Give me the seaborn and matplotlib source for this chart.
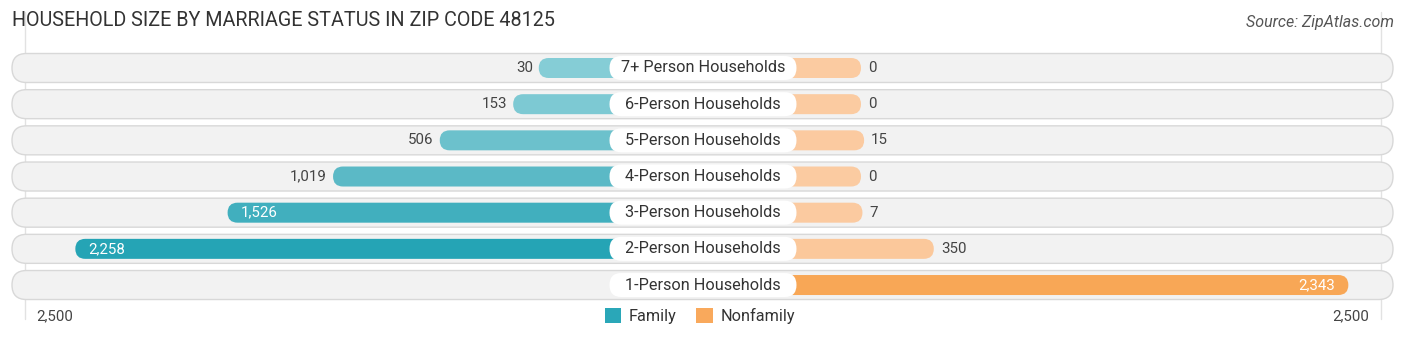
import matplotlib
matplotlib.use("Agg")
import matplotlib.pyplot as plt
import seaborn as sns
import pandas as pd
import numpy as np
from matplotlib.patches import FancyBboxPatch, Patch

# ---------------- data ----------------
categories = ["7+ Person Households", "6-Person Households", "5-Person Households",
              "4-Person Households", "3-Person Households", "2-Person Households",
              "1-Person Households"]
family = [30, 153, 506, 1019, 1526, 2258, None]
nonfamily = [0, 0, 15, 0, 7, 350, 2343]
family_colors = ["#85cdd6", "#7dc9d3", "#6cc1cc", "#5bb9c6", "#41afbe", "#25a4b5", "#25a4b5"]
nonfamily_colors = ["#fbcba1", "#fbcba1", "#fbcaa0", "#fbcba1", "#fbcaa0", "#fbc89b", "#f8a756"]
legend_labels = ["Family", "Nonfamily"]
legend_colors = ["#2aa7b8", "#f9a95c"]
tick_label = "2,500"
title = "HOUSEHOLD SIZE BY MARRIAGE STATUS IN ZIP CODE 48125"
source = "Source: ZipAtlas.com"

# ---------------- layout constants ----------------
W, H = 1406, 340
PXX = 0.208            # px per household
BASE = 158 / PXX       # minimum bar length (units) hidden under the label
XL = (W / 2) / PXX
ROW_PX = 36.17
Y0_PX = 68
ylim_top = -Y0_PX / ROW_PX
ylim_bot = (H - Y0_PX) / ROW_PX
PXY = ROW_PX

sns.set_theme(style="white")
plt.rcParams["font.family"] = ["Roboto", "DejaVu Sans"]

fig = plt.figure(figsize=(W / 100, H / 100), dpi=100)
ax = fig.add_axes([0, 0, 1, 1])

fam_df = pd.DataFrame({"cat": categories, "val": family})
fam_df = fam_df.dropna()
fam_df["len"] = -(BASE + fam_df["val"].astype(float))
non_df = pd.DataFrame({"cat": categories, "val": nonfamily})
non_df["len"] = BASE + non_df["val"].astype(float)

bar_h_px = 20
bar_h = bar_h_px / PXY
sns.barplot(data=fam_df, x="len", y="cat", hue="cat", order=categories,
            hue_order=categories, palette=dict(zip(categories, family_colors)),
            legend=False, width=bar_h, orient="h", saturation=1, ax=ax)
sns.barplot(data=non_df, x="len", y="cat", hue="cat", order=categories,
            hue_order=categories, palette=dict(zip(categories, nonfamily_colors)),
            legend=False, width=bar_h, orient="h", saturation=1, ax=ax)

ax.set_xlim(-XL, XL)
ax.set_ylim(ylim_bot, ylim_top)

# replace rectangles with rounded bars
r_x = (bar_h_px / 2) / PXX
m_asp = (bar_h / 2) / r_x
for p in list(ax.patches):
    x, y, w, h = p.get_x(), p.get_y(), p.get_width(), p.get_height()
    fc = p.get_facecolor()
    p.remove()
    if not np.isfinite(w) or w == 0:
        continue
    ax.add_patch(FancyBboxPatch((min(x, x + w), y), abs(w), h,
                                boxstyle=f"round,pad=0,rounding_size={r_x}",
                                mutation_aspect=m_asp, fc=fc, ec="none", zorder=3))

# row backgrounds
bg_h_px = 29
bg_h = bg_h_px / PXY
bg_r = (bg_h_px / 2) / PXX
bg_m = (bg_h / 2) / bg_r
bx0 = (12 - W / 2) / PXX
bx1 = (1393 - W / 2) / PXX
for i in range(len(categories)):
    ax.add_patch(FancyBboxPatch((bx0, i - bg_h / 2), bx1 - bx0, bg_h,
                                boxstyle=f"round,pad=0,rounding_size={bg_r}",
                                mutation_aspect=bg_m, fc="#f2f2f2", ec="#d8d8d8",
                                lw=1.0, zorder=1))

# gridlines at +-2500
for s in (-1, 1):
    gx = s * (BASE + 2500)
    ax.plot([gx, gx], [-1.55, 6.95], color="#e2e2e2", lw=1, zorder=0.5)

# label pills
pill_w_px, pill_h_px = 187, 24
pw = pill_w_px / PXX
ph = pill_h_px / PXY
pr = (pill_h_px / 2) / PXX
pm = (ph / 2) / pr
for i, c in enumerate(categories):
    ax.add_patch(FancyBboxPatch((-pw / 2, i - ph / 2), pw, ph,
                                boxstyle=f"round,pad=0,rounding_size={pr}",
                                mutation_aspect=pm, fc="white", ec="none", zorder=4))
    ax.text(0, i, c, ha="center", va="center", fontsize=11.7, color="#333333", zorder=5)

# value labels
thr = 1200
vfs = 10.8
for i, v in enumerate(family):
    if v is None:
        continue
    end = -(BASE + v)
    lab = f"{v:,}"
    if v >= thr:
        ax.text(end + 13 / PXX, i, lab, ha="left", va="center", fontsize=vfs,
                color="white", zorder=5)
    else:
        ax.text(end - 6 / PXX, i, lab, ha="right", va="center", fontsize=vfs,
                color="#444444", zorder=5)
for i, v in enumerate(nonfamily):
    end = BASE + v
    lab = f"{v:,}"
    if v >= thr:
        ax.text(end - 13 / PXX, i, lab, ha="right", va="center", fontsize=vfs,
                color="white", zorder=5)
    else:
        ax.text(end + 7 / PXX, i, lab, ha="left", va="center", fontsize=vfs,
                color="#444444", zorder=5)

ax.axis("off")

# title and source
fig.text(12 / W, 1 - 20 / H, title, ha="left", va="center", fontsize=14.2, color="#333333")
fig.text(1394 / W, 1 - 23 / H, source, ha="right", va="center", fontsize=11.5,
         color="#555555", style="italic")

# axis tick labels
fig.text(55 / W, 1 - 316 / H, tick_label, ha="center", va="center", fontsize=vfs, color="#444444")
fig.text(1351 / W, 1 - 316 / H, tick_label, ha="center", va="center", fontsize=vfs, color="#444444")

# legend
handles = [Patch(facecolor=c, edgecolor="none", label=l) for l, c in zip(legend_labels, legend_colors)]
fig.legend(handles=handles, loc="center", bbox_to_anchor=(700 / W, 1 - 316 / H), ncol=2,
           frameon=False, fontsize=11.7, handlelength=1.0, handleheight=1.0,
           handletextpad=0.5, columnspacing=1.2, labelcolor="#333333")

fig.savefig("out.png", dpi=100)
